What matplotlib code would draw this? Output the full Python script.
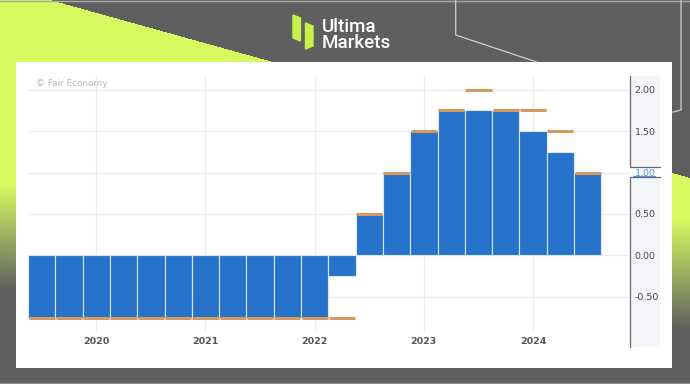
import matplotlib.pyplot as plt
import numpy as np
from matplotlib.patches import Rectangle, Polygon

# SNB policy rate decisions (quarterly)
meetings = ['Sep 2019', 'Dec 2019', 'Mar 2020', 'Jun 2020', 'Sep 2020', 'Dec 2020',
            'Mar 2021', 'Jun 2021', 'Sep 2021', 'Dec 2021', 'Mar 2022', 'Jun 2022',
            'Sep 2022', 'Dec 2022', 'Mar 2023', 'Jun 2023', 'Sep 2023', 'Dec 2023',
            'Mar 2024', 'Jun 2024', 'Sep 2024']
actual = [-0.75, -0.75, -0.75, -0.75, -0.75, -0.75, -0.75, -0.75, -0.75, -0.75, -0.75, -0.25,
          0.50, 1.00, 1.50, 1.75, 1.75, 1.75, 1.50, 1.25, 1.00]
forecast = [-0.75, -0.75, -0.75, -0.75, -0.75, -0.75, -0.75, -0.75, -0.75, -0.75, -0.75, -0.75,
            0.50, 1.00, 1.50, 1.75, 2.00, 1.75, 1.75, 1.50, 1.00]
year_labels = ['2020', '2021', '2022', '2023', '2024']
year_pos = [2, 6, 10, 14, 18]
y_ticks = [-0.5, 0.0, 0.5, 1.0, 1.5, 2.0]

W, H = 690, 384
GRAY = '#5f5f5f'
GREEN = np.array([0.84, 0.98, 0.38])
BLUE = '#2773cb'
ORANGE = '#d59a5e'

fig = plt.figure(figsize=(W / 100, H / 100), dpi=100, facecolor=GRAY)

# background layer in pixel coordinates
bg = fig.add_axes([0, 0, 1, 1], zorder=0)
bg.set_xlim(0, W)
bg.set_ylim(H, 0)
bg.axis('off')

xx, yy = np.meshgrid(np.arange(W) + 0.5, np.arange(H) + 0.5)
in_band = yy > (xx - 50) * 0.278
y0 = 185 + 35 * xx / W
y1 = 290 + 40 * xx / W
t = np.clip((yy - y0) / (y1 - y0), 0, 1)
g = np.array([0x5f, 0x5f, 0x5f]) / 255
img = np.ones((H, W, 3)) * g
mix = GREEN[None, None, :] * (1 - t[..., None]) + g * t[..., None]
img[in_band] = mix[in_band]
bg.imshow(img, extent=(0, W, H, 0), aspect='auto', interpolation='bilinear')

# decorative frame lines
bg.plot([0, W], [0.6, 0.6], color='#a8a8a8', lw=1)
bg.plot([0, W], [383.4, 383.4], color='#8a8a8a', lw=1)
bg.plot([455.7, 455.7, 536.7], [0, 35, 62], color='#cfcfcf', lw=0.9)
bg.plot([681, 681, 673], [0, 110, 112], color='#cfcfcf', lw=0.9)

# white panel
bg.add_patch(Rectangle((16, 62), 656, 306, facecolor='white', edgecolor='none'))

# logo
bg.add_patch(Polygon([(293, 15), (300.5, 18), (300.5, 41), (293, 38)], color='#c8f04a'))
bg.add_patch(Polygon([(305.5, 23), (313, 26), (313, 46), (305.5, 49)], color='#c8f04a'))
bg.text(322, 31.7, 'Ultima', color='white', fontsize=13.5, family='Roboto',
        fontweight='medium', va='baseline', ha='left')
bg.text(322, 48.3, 'Markets', color='white', fontsize=13.5, family='Roboto',
        fontweight='medium', va='baseline', ha='left')

# right value-axis panel
bg.add_patch(Rectangle((630, 76), 30, 90.7, facecolor='#f4f5f9', edgecolor='none'))
bg.add_patch(Rectangle((630, 176.7), 30, 170, facecolor='#f4f5f9', edgecolor='none'))
bg.plot([630, 630, 660], [76, 166.7, 166.7], color='#6a6a6a', lw=0.9)
bg.plot([660, 630, 630], [176.7, 176.7, 346.7], color='#6a6a6a', lw=0.9)
bg.plot([633, 655], [175.6, 175.6], color='#4a8fdc', lw=0.7)

bg.text(36, 84, '\u00a9 Fair Economy', color='#b8b8b8', fontsize=6.4, va='center', ha='left')

# main chart
left, right, top, bottom = 28, 630, 75, 333
ax = fig.add_axes([left / W, 1 - bottom / H, (right - left) / W, (bottom - top) / H], zorder=1)
ax.set_facecolor('none')

x = np.arange(len(meetings))
ax.bar(x, actual, width=1.0, color=BLUE, edgecolor='#dbe7f6', linewidth=0.8, zorder=2)
ax.hlines(forecast, x - 0.48, x + 0.48, color=ORANGE, lw=2.2, zorder=3)

ax.set_xlim(-0.5, 21.55)
ax.set_ylim(-0.934, 2.175)

ax.set_yticks(y_ticks)
ax.yaxis.tick_right()
ax.set_yticklabels(['%.2f' % v for v in y_ticks])
ax.tick_params(axis='y', length=0, pad=3.2, labelsize=6.8, labelcolor='#444444')
for lab, v in zip(ax.get_yticklabels(), y_ticks):
    if v == 1.0:
        lab.set_color('#4a8fdc')

ax.set_xticks(year_pos)
ax.set_xticklabels(year_labels, fontweight='bold')
ax.tick_params(axis='x', length=0, pad=3, labelsize=6.8, labelcolor='#555555')

ax.grid(True, color='#ebecf2', lw=0.9, zorder=0)
ax.set_axisbelow(True)
for s in ax.spines.values():
    s.set_visible(False)

fig.savefig('out.png', dpi=100, facecolor=GRAY)
